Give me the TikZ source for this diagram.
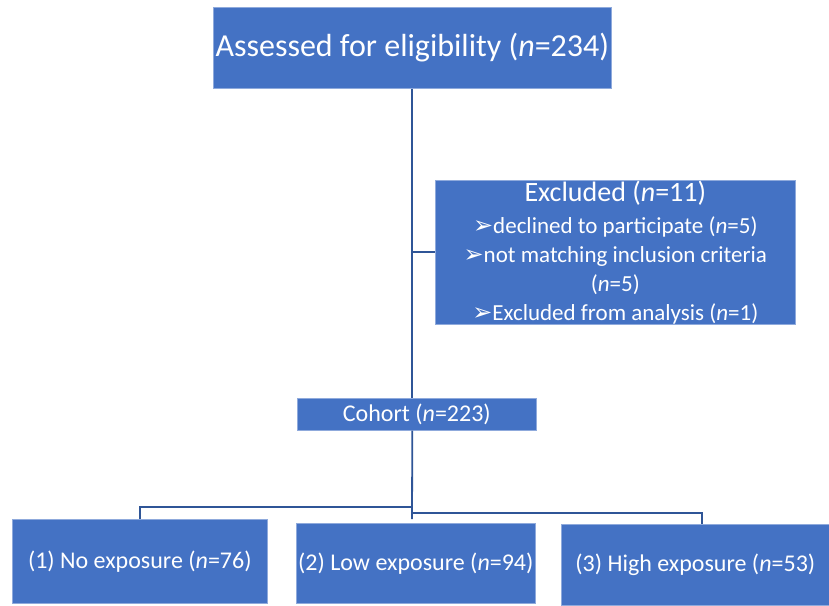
\documentclass[tikz,border=0pt]{standalone}
\usepackage{fontspec}
\setmainfont{Carlito}
\newfontfamily\symfont{DejaVu Sans}
\definecolor{boxblue}{HTML}{4472C4}
\definecolor{lineblue}{HTML}{2F5597}
\newcommand{\arrbul}{{\symfont\fontsize{24}{29}\selectfont ➢}}
\begin{document}
\begin{tikzpicture}[x=1pt,y=-1pt,
  box/.style={fill=boxblue, draw=boxblue!60!white, line width=0.6pt, text=white, inner sep=0pt, anchor=north west, align=center},
  conn/.style={draw=lineblue, line width=1.8pt}]
\fill[white] (0,0) rectangle (829,605);
\useasboundingbox (0,0) rectangle (829,605);
\node[box, minimum width=398pt, minimum height=81pt, font=\fontsize{32}{38}\selectfont] (assess) at (213,7) {Assessed for eligibility (\textit{n}=234)};
\node[box, minimum width=360pt, minimum height=144pt, font=\fontsize{23}{29}\selectfont] (excl) at (435,180)
 {{\fontsize{28}{29}\selectfont Excluded (\textit{n}=11)}\\[3pt]
  \arrbul declined to participate (\textit{n}=5)\\
  \arrbul not matching inclusion criteria\\
  (\textit{n}=5)\\
  \arrbul Excluded from analysis (\textit{n}=1)};
\node[box, minimum width=239pt, minimum height=32pt, font=\fontsize{24}{28}\selectfont] (cohort) at (297,398) {Cohort (\textit{n}=223)};
\node[box, minimum width=255pt, minimum height=84pt, font=\fontsize{24}{28}\selectfont] (no) at (12,519) {(1) No exposure (\textit{n}=76)};
\node[box, minimum width=239pt, minimum height=80pt, font=\fontsize{24}{28}\selectfont] (low) at (296,523) {(2) Low exposure (\textit{n}=94)};
\node[box, minimum width=268pt, minimum height=81pt, font=\fontsize{24}{28}\selectfont] (high) at (561,524) {(3) High exposure (\textit{n}=53)};
\coordinate (jl) at (412,507);
\coordinate (jr) at (412,513);
\coordinate (jm) at (412,519);
\coordinate (hr) at (702,524);
\draw[conn] (assess.south) -- (assess.south |- cohort.north);
\draw[conn] (assess.south |- excl.west) -- (excl.west);
\draw[conn] (assess.south |- cohort.south) -- (jm);
\draw[conn] (jl) -| (no.north);
\draw[conn] (jr) -| (hr);
\end{tikzpicture}
\end{document}
